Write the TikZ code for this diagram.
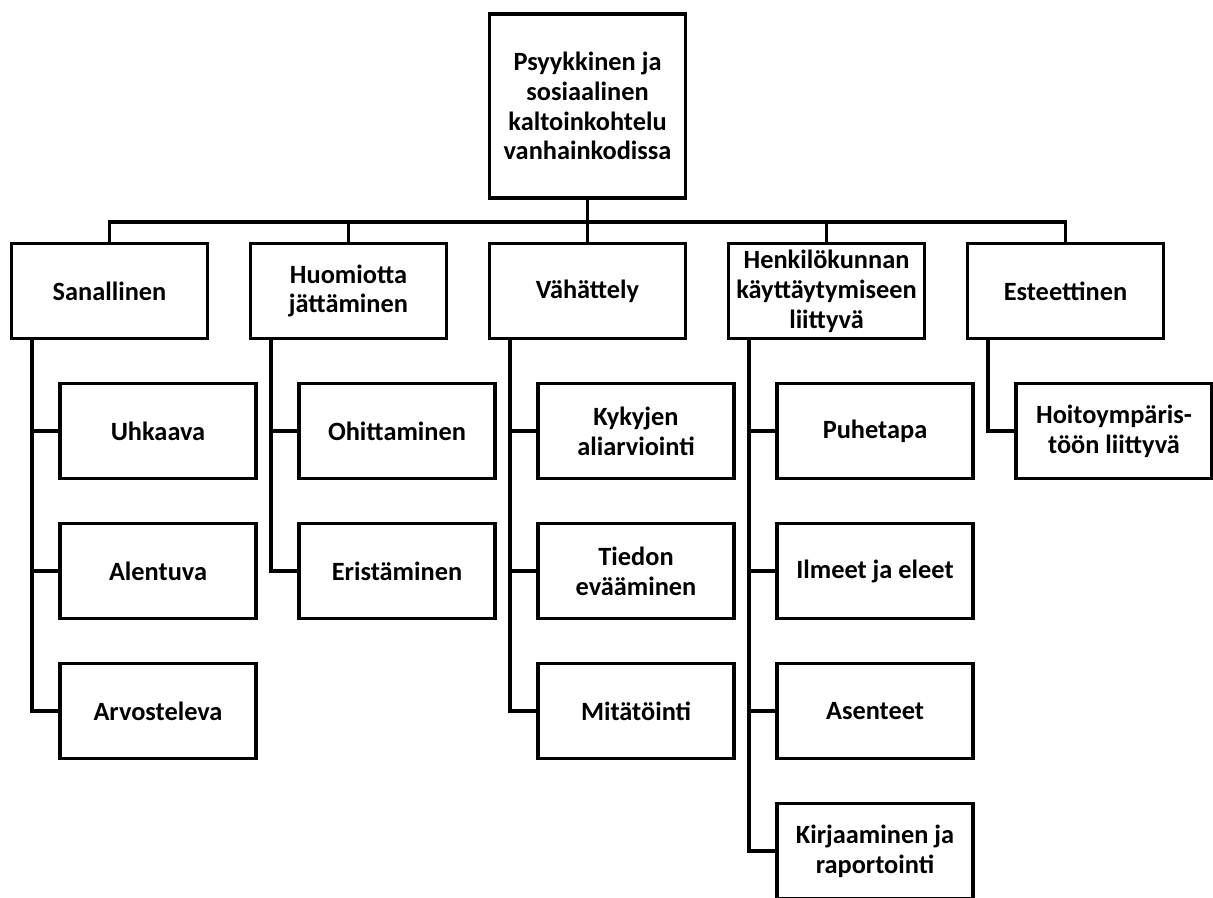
\documentclass[tikz,border=0pt]{standalone}
\usepackage{fontspec}
\setmainfont{Carlito}
\usetikzlibrary{arrows}
\usetikzlibrary{positioning}
\tikzset{
    item/.style={
           rectangle,
           draw=black,
           line width=2pt,
           minimum width=3.92cm,
           minimum height=1.9cm,
           inner sep=2pt,
           align=center,
           font=\bfseries\fontsize{15}{17}\selectfont,
           },
    link/.style={
           line width=2pt,
           },
}

\begin{document}
\begin{tikzpicture}

 \useasboundingbox (0,0) rectangle (24.26,-17.94);
 \clip (0,0) rectangle (24.26,-17.94);

 \node[item, minimum height=3.68cm] (ROOT) at (11.75,-2.12)
 {Psyykkinen ja\\sosiaalinen\\kaltoinkohtelu\\vanhainkodissa};

 % main groups
 \node[item,
 node distance=3.7cm,
 below of=ROOT,
 ] (VAHATTELY) {Vähättely};

 \node[item,
 node distance=4.78cm,
 left of=VAHATTELY,
 ] (HUOMIOTTA) {Huomiotta\\jättäminen};

 \node[item,
 node distance=4.78cm,
 left of=HUOMIOTTA,
 ] (SANALLINEN) {Sanallinen};

 \node[item,
 node distance=4.78cm,
 right of=VAHATTELY,
 ] (HENKILO) {Henkilökunnan\\käyttäytymiseen\\liittyvä};

 \node[item,
 node distance=4.78cm,
 right of=HENKILO,
 ] (ESTEETTINEN) {Esteettinen};

 % sub groups
 \node[item, node distance=2.8cm, below of=SANALLINEN, xshift=0.97cm] (UHKAAVA) {Uhkaava};
 \node[item, node distance=2.8cm, below of=UHKAAVA] (ALENTUVA) {Alentuva};
 \node[item, node distance=2.8cm, below of=ALENTUVA] (ARVOSTELEVA) {Arvosteleva};

 \node[item, node distance=2.8cm, below of=HUOMIOTTA, xshift=0.97cm] (OHITTAMINEN) {Ohittaminen};
 \node[item, node distance=2.8cm, below of=OHITTAMINEN] (ERISTAMINEN) {Eristäminen};

 \node[item, node distance=2.8cm, below of=VAHATTELY, xshift=0.97cm] (KYKYJEN) {Kykyjen\\aliarviointi};
 \node[item, node distance=2.8cm, below of=KYKYJEN] (TIEDON) {Tiedon\\evääminen};
 \node[item, node distance=2.8cm, below of=TIEDON] (MITATOINTI) {Mitätöinti};

 \node[item, node distance=2.8cm, below of=HENKILO, xshift=0.97cm] (PUHETAPA) {Puhetapa};
 \node[item, node distance=2.8cm, below of=PUHETAPA] (ILMEET) {Ilmeet ja eleet};
 \node[item, node distance=2.8cm, below of=ILMEET] (ASENTEET) {Asenteet};
 \node[item, node distance=2.8cm, below of=ASENTEET] (KIRJAAMINEN) {Kirjaaminen ja\\raportointi};

 \node[item, node distance=2.8cm, below of=ESTEETTINEN, xshift=0.97cm] (HOITO) {Hoitoympäris-\\töön liittyvä};

 % connectors
 \coordinate[below of=ROOT, node distance=2.32cm] (BUS);
 \foreach \cat in {SANALLINEN,HUOMIOTTA,VAHATTELY,HENKILO,ESTEETTINEN}
   \draw[link] (ROOT.south) -- (BUS) -| (\cat.north);

 \foreach \sub in {UHKAAVA,ALENTUVA,ARVOSTELEVA}
   \draw[link] ([xshift=0.44cm]SANALLINEN.south west) |- (\sub.west);
 \foreach \sub in {OHITTAMINEN,ERISTAMINEN}
   \draw[link] ([xshift=0.44cm]HUOMIOTTA.south west) |- (\sub.west);
 \foreach \sub in {KYKYJEN,TIEDON,MITATOINTI}
   \draw[link] ([xshift=0.44cm]VAHATTELY.south west) |- (\sub.west);
 \foreach \sub in {PUHETAPA,ILMEET,ASENTEET,KIRJAAMINEN}
   \draw[link] ([xshift=0.44cm]HENKILO.south west) |- (\sub.west);
 \draw[link] ([xshift=0.44cm]ESTEETTINEN.south west) |- (HOITO.west);

\end{tikzpicture}
\end{document}
